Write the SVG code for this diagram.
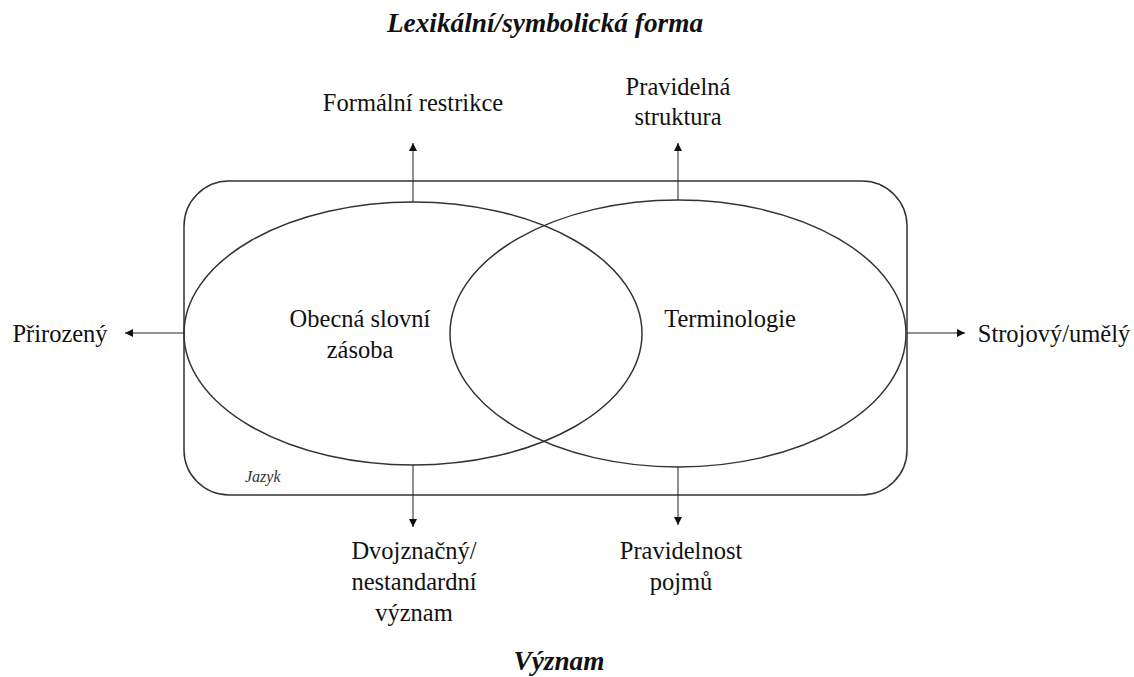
<svg xmlns="http://www.w3.org/2000/svg" width="1134" height="677" viewBox="0 0 1134 677">
<style>
.s{fill:none;stroke:#333;stroke-width:1.5}
.c{fill:none;stroke:#222;stroke-width:1;marker-end:url(#ah)}
</style>
<defs>
<marker id="ah" viewBox="0 0 10 10" refX="10" refY="5" markerWidth="8" markerHeight="8" markerUnits="userSpaceOnUse" orient="auto">
<path d="M0,0 L10,5 L0,10 z" fill="#111"/>
</marker>
</defs>
<rect width="1134" height="677" fill="#fff"/>
<g font-family="Liberation Serif, Times New Roman, serif" font-size="24.5" fill="#111" text-anchor="middle">
<g font-weight="bold" font-style="italic" font-size="27.3">
<text x="545" y="32">Lexikální/symbolická forma</text>
<text x="559" y="670">Význam</text>
</g>
<g id="jazyk">
<rect class="s" x="184" y="181" width="723" height="314" rx="45" ry="45"/>
<text x="245" y="482" text-anchor="start" font-size="16" font-style="italic" fill="#333">Jazyk</text>
</g>
<g id="obecna">
<ellipse class="s" cx="413" cy="333.5" rx="229" ry="131.5"/>
<text x="360" y="327">Obecná slovní</text>
<text x="360" y="358">zásoba</text>
</g>
<g id="terminologie">
<ellipse class="s" cx="678" cy="333.5" rx="228" ry="133.5"/>
<text x="730" y="327">Terminologie</text>
</g>
<g id="connectors">
<line class="c" x1="413" y1="202" x2="413" y2="143"/>
<line class="c" x1="678" y1="200" x2="678" y2="143"/>
<line class="c" x1="184" y1="333" x2="125" y2="333"/>
<line class="c" x1="907" y1="333" x2="965" y2="333"/>
<line class="c" x1="413" y1="465" x2="413" y2="527"/>
<line class="c" x1="678" y1="467" x2="678" y2="525"/>
</g>
<g id="labels">
<text x="413" y="111">Formální restrikce</text>
<text x="678" y="95">Pravidelná</text>
<text x="678" y="125">struktura</text>
<text x="60" y="342">Přirozený</text>
<text x="1054" y="342">Strojový/umělý</text>
<text x="414" y="559">Dvojznačný/</text>
<text x="414" y="590">nestandardní</text>
<text x="414" y="621">význam</text>
<text x="681" y="559">Pravidelnost</text>
<text x="681" y="590">pojmů</text>
</g>
</g>
</svg>
